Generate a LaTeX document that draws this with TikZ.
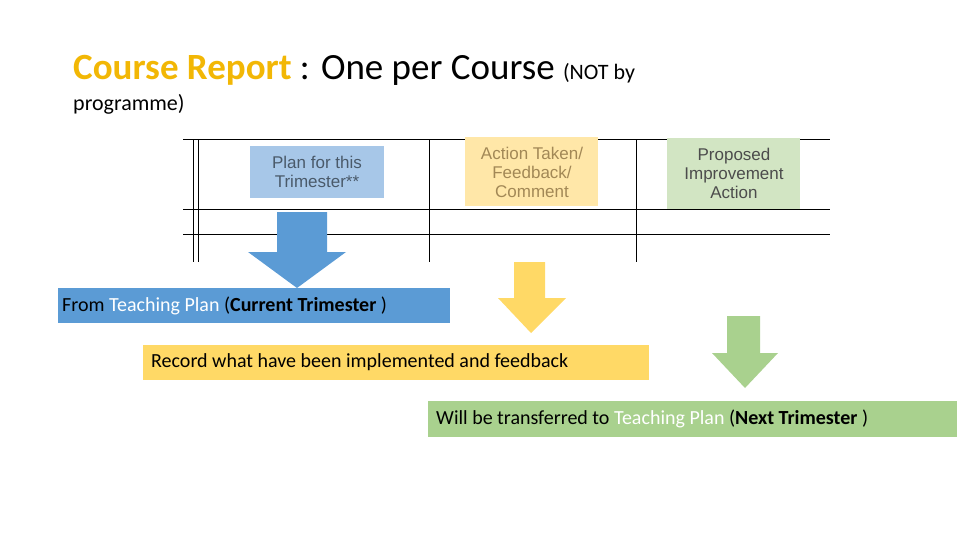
\documentclass[tikz,border=0pt]{standalone}
\usepackage{fontspec}
\setmainfont{Carlito}
\newfontfamily\arialf{Liberation Sans}
\definecolor{gold}{HTML}{F2B705}
\definecolor{bluebox}{HTML}{5B9BD5}
\definecolor{bluelab}{HTML}{A7C7E8}
\definecolor{yelbox}{HTML}{FFD966}
\definecolor{yellab}{HTML}{FFE7A8}
\definecolor{grnbox}{HTML}{A9D18E}
\definecolor{grnlab}{HTML}{D2E5C3}
\definecolor{hdr}{HTML}{4A5A6A}
\begin{document}
\begin{tikzpicture}[x=1pt,y=-1pt,
  lab/.style={font=\arialf\fontsize{17}{19}\selectfont,align=center,text=hdr,inner sep=0pt},
  bar/.style={font=\fontsize{20}{22}\selectfont,anchor=west,inner sep=0pt,text=black},
  tline/.style={line width=1pt,black}]
\useasboundingbox (0,0) rectangle (960,540);
% title
\node (t1) [anchor=base west,inner sep=0pt,font=\fontsize{37}{40}\selectfont] at (73,80)
  {\textcolor{gold}{\textbf{Course Report}} : One per Course {\fontsize{22}{24}\selectfont(NOT by}};
\node (t2) [anchor=base west,inner sep=0pt,font=\fontsize{22}{24}\selectfont] at (73,111) {programme)};
% table
\draw[tline] (183,140)--(830,140) (183,209)--(830,209) (183,234)--(830,234);
\draw[tline] (193,140)--(193,262) (198,140)--(198,262) (429,140)--(429,262) (636,140)--(636,262);
% header labels
\fill[bluelab] (250,146) rectangle (384,198);
\node (h1) [lab] at (317,172) {Plan for this\\Trimester**};
\fill[yellab] (465,137) rectangle (598,206);
\node (h2) [lab,text=black!65!yellow!40!brown] at (532,172) {Action Taken/\\Feedback/\\Comment};
\fill[grnlab] (667,138) rectangle (800,209);
\node (h3) [lab,text=black!70] at (734,173) {Proposed\\Improvement\\Action};
% arrows
\fill[bluebox] (277,212)--(327,212)--(327,252)--(346,252)--(297,288)--(248,252)--(277,252)--cycle;
\fill[yelbox] (514,262)--(545,262)--(545,298)--(566,298)--(531,333)--(498,298)--(514,298)--cycle;
\fill[grnbox] (727,316)--(760,316)--(760,353)--(778,353)--(745,388)--(712,353)--(727,353)--cycle;
% bars
\fill[bluebox] (58,288) rectangle (450,323);
\node (b1) [bar] at (62,306) {From \textcolor{white}{Teaching Plan} (\textbf{Current Trimester} )};
\fill[yelbox] (143,345) rectangle (649,380);
\node (b2) [bar] at (151,362) {Record what have been implemented and feedback};
\fill[grnbox] (428,401) rectangle (957,437);
\node (b3) [bar] at (436,419) {Will be transferred to \textcolor{white}{Teaching Plan} (\textbf{Next Trimester} )};
\end{tikzpicture}
\end{document}
